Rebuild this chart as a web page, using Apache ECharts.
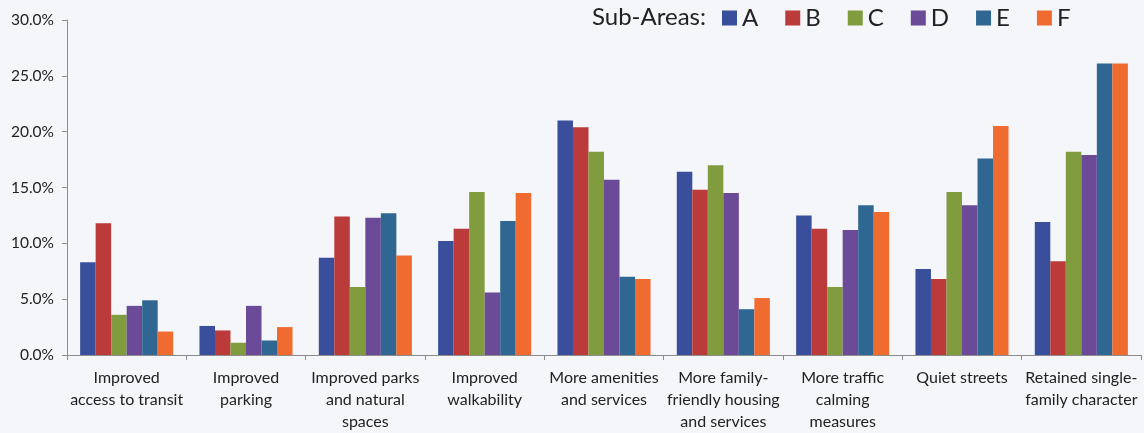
<!DOCTYPE html>
<html>
<head>
<meta charset="utf-8">
<script src="https://cdn.jsdelivr.net/npm/echarts@6/dist/echarts.min.js"></script>
<style>
  html, body { margin: 0; padding: 0; background: #f5f6fa; }
  #main { width: 1144px; height: 433px; }
</style>
</head>
<body>
<div id="main"></div>
<script>
// categories (x axis), label lines broken as in the picture
const categories = [
  'Improved\naccess to transit',
  'Improved\nparking',
  'Improved parks\nand natural\nspaces',
  'Improved\nwalkability',
  'More amenities\nand services',
  'More family-\nfriendly housing\nand services',
  'More traffic\ncalming\nmeasures',
  'Quiet streets',
  'Retained single-\nfamily character'
]

// sub-area values, percent
const areaA = [8.3, 2.6, 8.7, 10.2, 21.0, 16.4, 12.5, 7.7, 11.9]
const areaB = [11.8, 2.2, 12.4, 11.3, 20.4, 14.8, 11.3, 6.8, 8.4]
const areaC = [3.6, 1.1, 6.1, 14.6, 18.2, 17.0, 6.1, 14.6, 18.2]
const areaD = [4.4, 4.4, 12.3, 5.6, 15.7, 14.5, 11.2, 13.4, 17.9]
const areaE = [4.9, 1.3, 12.7, 12.0, 7.0, 4.1, 13.4, 17.6, 26.1]
const areaF = [2.1, 2.5, 8.9, 14.5, 6.8, 5.1, 12.8, 20.5, 26.1]

const seriesNames = ['A', 'B', 'C', 'D', 'E', 'F']
const seriesData = [areaA, areaB, areaC, areaD, areaE, areaF]
const colors = ['#3a4f9b', '#bb3a3a', '#809c3f', '#6b4b97', '#306792', '#ef6b30']

const yTicks = { min: 0, max: 30, interval: 5 }

const chart = echarts.init(document.getElementById('main'))
const font = 'Lato, "Open Sans", sans-serif'

const option = {
  backgroundColor: '#f5f6fa',
  animation: false,
  color: colors,
  title: {
    text: 'Sub-Areas:',
    left: 587,
    top: 0,
    textStyle: { fontFamily: font, fontSize: 24, fontWeight: 'normal', color: '#222' }
  },
  legend: {
    data: seriesNames,
    left: 717,
    top: 1,
    itemWidth: 15,
    itemHeight: 15,
    itemGap: 27,
    icon: 'rect',
    textStyle: { fontFamily: font, fontSize: 24, color: '#222' }
  },
  grid: {
    left: 67,
    right: 3,
    top: 20,
    bottom: 78,
    containLabel: false
  },
  xAxis: {
    type: 'category',
    data: categories,
    axisLine: { lineStyle: { color: '#8c8c8c', width: 1 } },
    axisTick: { show: true, length: 5, lineStyle: { color: '#8c8c8c' } },
    axisLabel: {
      interval: 0,
      margin: 12,
      fontFamily: font,
      fontSize: 16,
      lineHeight: 22,
      color: '#222'
    }
  },
  yAxis: {
    type: 'value',
    min: yTicks.min,
    max: yTicks.max,
    interval: yTicks.interval,
    axisLine: { show: true, lineStyle: { color: '#8c8c8c', width: 1 } },
    axisTick: { show: true, length: 5, lineStyle: { color: '#8c8c8c' } },
    splitLine: { show: false },
    axisLabel: {
      margin: 13,
      fontFamily: font,
      fontSize: 15.5,
      color: '#222',
      formatter: v => v.toFixed(1) + '%'
    }
  },
  series: seriesNames.map((name, i) => ({
    name: name,
    type: 'bar',
    data: seriesData[i],
    barGap: '0%',
    barCategoryGap: '22%'
  }))
}

chart.setOption(option)
</script>
</body>
</html>
